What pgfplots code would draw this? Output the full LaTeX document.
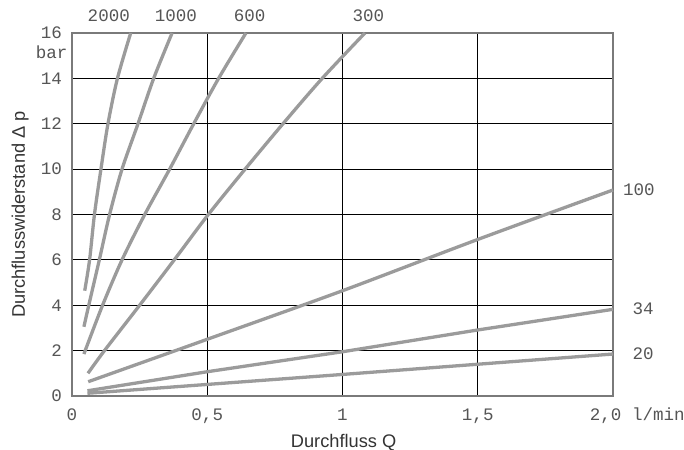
\documentclass[border=0pt]{standalone}
\usepackage{pgfplots}
\pgfplotsset{compat=1.18}
\usepackage{fontspec}
\setmainfont{Liberation Sans}
\newfontfamily\monofont{Liberation Mono}
\definecolor{curve}{HTML}{9B9B9B}
\definecolor{frame}{HTML}{7A7A7A}
\definecolor{ticktext}{HTML}{555555}
\definecolor{labeltext}{HTML}{333333}
\newcommand\tickfont{\monofont\fontsize{17.6}{18}\selectfont}
\newcommand\labfont{\fontsize{18.3}{20}\selectfont}
\begin{document}
\begin{tikzpicture}
\useasboundingbox (0,0) rectangle (684bp,450bp);
\begin{axis}[
  at={(72bp,54bp)}, anchor=south west,
  scale only axis, width=541bp, height=363bp,
  xmin=0, xmax=2, ymin=0, ymax=16,
  xtick={0,0.5,1,1.5,2}, xticklabels={0,{0,5},1,{1,5},{}},
  ytick={0,2,4,6,8,10,12,14,16},
  grid=major, major grid style={black, line width=1.1bp},
  axis line style={frame, line width=1.6bp},
  major tick length=0pt,
  tick label style={font=\tickfont, text=ticktext, inner sep=0pt},
  /pgf/number format/assume math mode=true,
  xticklabel style={anchor=base, yshift=-24.5bp},
  yticklabel style={anchor=east, xshift=-10bp},
  clip=false,
]
\addplot[curve, line width=3.3bp] coordinates {(0.057,0.12) (0.5,0.51) (1,0.95) (1.5,1.4) (2,1.85)};
\addplot[curve, line width=3.3bp] coordinates {(0.057,0.23) (0.5,1.07) (1,1.95) (1.5,2.91) (2,3.82)};
\addplot[curve, line width=3.3bp, smooth] coordinates {(0.06,0.63) (0.5,2.5) (1,4.64) (1.5,6.9) (2,9.08)};
\addplot[curve, line width=3.3bp, smooth] coordinates {(0.059,1.0) (0.12,2) (0.25,4) (0.378,6) (0.504,8) (0.64,10) (0.78,12) (0.925,14) (1.083,16)};
\addplot[curve, line width=3.3bp, smooth] coordinates {(0.044,1.85) (0.113,4) (0.185,6) (0.269,8) (0.361,10) (0.45,12) (0.542,14) (0.643,16)};
\addplot[curve, line width=3.3bp, smooth] coordinates {(0.044,3.05) (0.062,4) (0.101,6) (0.139,8) (0.185,10) (0.244,12) (0.302,14) (0.37,16)};
\addplot[curve, line width=3.3bp, smooth] coordinates {(0.047,4.64) (0.065,6) (0.083,8) (0.107,10) (0.133,12) (0.168,14) (0.217,16)};
% curve labels
\node[font=\tickfont, text=ticktext, inner sep=0pt] at (axis cs:0.136,16.75) {2000};
\node[font=\tickfont, text=ticktext, inner sep=0pt] at (axis cs:0.384,16.75) {1000};
\node[font=\tickfont, text=ticktext, inner sep=0pt] at (axis cs:0.657,16.75) {600};
\node[font=\tickfont, text=ticktext, inner sep=0pt] at (axis cs:1.096,16.75) {300};
\node[font=\tickfont, text=ticktext, inner sep=0pt] at (axis cs:2.096,9.11) {100};
\node[font=\tickfont, text=ticktext, inner sep=0pt] at (axis cs:2.111,3.83) {34};
\node[font=\tickfont, text=ticktext, inner sep=0pt] at (axis cs:2.111,1.85) {20};
% units
\node[font=\tickfont, text=ticktext, inner sep=0pt] at (axis cs:-0.075,15.17) {bar};
\node[font=\tickfont, text=ticktext, inner sep=0pt, anchor=base, yshift=-24.5bp] at (axis cs:1.973,0) {2,0};
\node[font=\tickfont, text=ticktext, inner sep=0pt, anchor=base, yshift=-24.5bp] at (axis cs:2.168,0) {l/min};
% axis labels
\node[font=\labfont, text=labeltext, inner sep=0pt, anchor=base] at (axis cs:1.004,-2.248) {Durchfluss Q};
\node[font=\labfont, text=labeltext, inner sep=0pt, anchor=base, rotate=90] at (axis cs:-0.1738,8) {Durchflusswiderstand Δ p};
\end{axis}
\end{tikzpicture}
\end{document}
